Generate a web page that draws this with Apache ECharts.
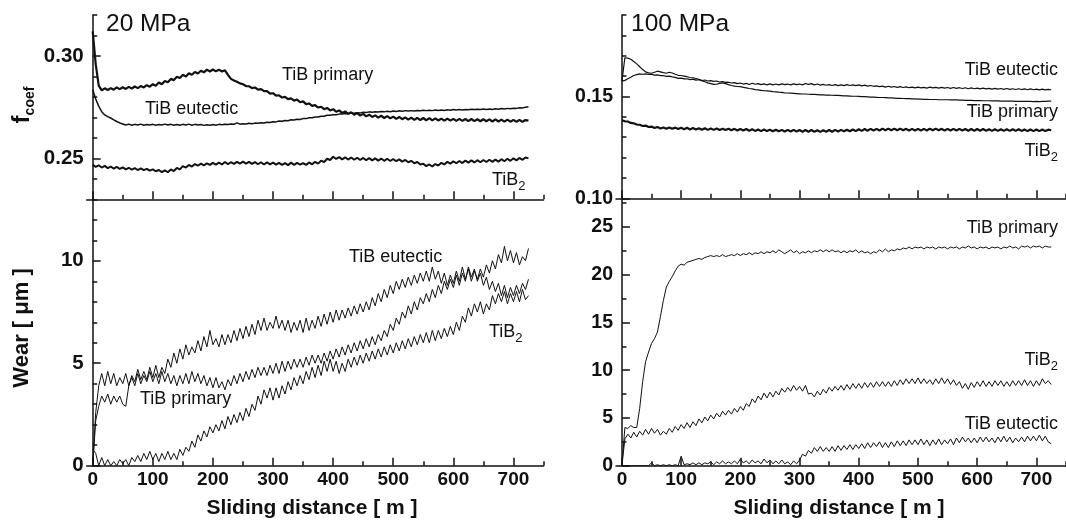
<!DOCTYPE html>
<html><head><meta charset="utf-8">
<script src="https://cdn.jsdelivr.net/npm/echarts@6/dist/echarts.min.js"></script>
<style>html,body{margin:0;padding:0;background:#fff}#c{width:1066px;height:521px}</style>
</head><body><div id="c"></div>
<script>
// Sliding distance [m], sampled every 5 m
const distance = [
0,5,10,15,20,25,30,35,40,45, 50,55,60,65,70,75,80,85,90,95,
100,105,110,115,120,125,130,135,140,145, 150,155,160,165,170,175,180,185,190,195,
200,205,210,215,220,225,230,235,240,245, 250,255,260,265,270,275,280,285,290,295,
300,305,310,315,320,325,330,335,340,345, 350,355,360,365,370,375,380,385,390,395,
400,405,410,415,420,425,430,435,440,445, 450,455,460,465,470,475,480,485,490,495,
500,505,510,515,520,525,530,535,540,545, 550,555,560,565,570,575,580,585,590,595,
600,605,610,615,620,625,630,635,640,645, 650,655,660,665,670,675,680,685,690,695,
700,705,710,715,720,725];

// 20 MPa – friction coefficient
const f20Primary = [
0.312,0.296,0.2855,0.2832,0.2842,0.2834,0.2843,0.2835,0.2846,0.2838,
0.2847,0.2839,0.2849,0.2841,0.2851,0.2843,0.2853,0.2846,0.2857,0.2850,
0.2862,0.2855,0.2870,0.2862,0.2878,0.2872,0.2888,0.2882,0.2898,0.2892,
0.2908,0.2900,0.2915,0.2908,0.2922,0.2914,0.2928,0.2920,0.2933,0.2924,
0.2934,0.2925,0.2933,0.2924,0.2930,0.2908,0.2888,0.2880,0.2874,0.2866,
0.2862,0.2853,0.2852,0.2843,0.2846,0.2836,0.2838,0.2828,0.2828,0.2816,
0.2818,0.2806,0.2808,0.2797,0.2800,0.2789,0.2793,0.2782,0.2787,0.2774,
0.2778,0.2765,0.2768,0.2756,0.2760,0.2748,0.2752,0.2740,0.2746,0.2734,
0.2740,0.2728,0.2734,0.2722,0.2729,0.2717,0.2725,0.2713,0.2721,0.2709,
0.2717,0.2705,0.2713,0.2702,0.2710,0.2699,0.2708,0.2697,0.2706,0.2695,
0.2704,0.2693,0.2702,0.2691,0.2700,0.2689,0.2699,0.2688,0.2698,0.2687,
0.2697,0.2686,0.2696,0.2685,0.2695,0.2685,0.2694,0.2684,0.2694,0.2684,
0.2693,0.2683,0.2693,0.2683,0.2692,0.2682,0.2692,0.2682,0.2691,0.2681,
0.2691,0.2681,0.2690,0.2680,0.2690,0.2680,0.2689,0.2679,0.2689,0.2679,
0.2688,0.2678,0.2688,0.2678,0.2687,0.2684];
const f20Eutectic = [
0.2835,0.2790,0.2755,0.2728,0.2712,0.2704,0.2697,0.2688,0.2680,0.2673,
0.2668,0.2663,0.2667,0.2662,0.2666,0.2663,0.2667,0.2662,0.2665,0.2663,
0.2666,0.2662,0.2665,0.2663,0.2667,0.2663,0.2666,0.2662,0.2665,0.2662,
0.2666,0.2663,0.2667,0.2662,0.2666,0.2663,0.2665,0.2661,0.2664,0.2662,
0.2665,0.2662,0.2666,0.2664,0.2667,0.2665,0.2668,0.2666,0.2673,0.2667,
0.2669,0.2668,0.2671,0.2669,0.2672,0.2671,0.2674,0.2673,0.2676,0.2675,
0.2679,0.2678,0.2682,0.2681,0.2685,0.2684,0.2688,0.2687,0.2691,0.2690,
0.2694,0.2694,0.2698,0.2698,0.2702,0.2702,0.2706,0.2706,0.2710,0.2710,
0.2713,0.2713,0.2716,0.2716,0.2719,0.2718,0.2721,0.2720,0.2723,0.2722,
0.2725,0.2724,0.2727,0.2725,0.2728,0.2726,0.2729,0.2727,0.2730,0.2728,
0.2731,0.2729,0.2732,0.2730,0.2733,0.2731,0.2733,0.2731,0.2734,0.2732,
0.2735,0.2733,0.2735,0.2733,0.2736,0.2734,0.2736,0.2734,0.2737,0.2735,
0.2738,0.2736,0.2738,0.2736,0.2739,0.2737,0.2740,0.2738,0.2740,0.2738,
0.2741,0.2739,0.2741,0.2739,0.2742,0.2740,0.2743,0.2741,0.2744,0.2742,
0.2745,0.2744,0.2747,0.2746,0.2750,0.2752];
const f20TiB2 = [
0.2468,0.2458,0.2466,0.2455,0.2463,0.2452,0.2460,0.2450,0.2458,0.2448,
0.2456,0.2446,0.2454,0.2445,0.2452,0.2443,0.2451,0.2442,0.2449,0.2440,
0.2446,0.2437,0.2443,0.2433,0.2441,0.2432,0.2446,0.2438,0.2453,0.2446,
0.2462,0.2455,0.2468,0.2460,0.2472,0.2464,0.2474,0.2466,0.2476,0.2468,
0.2478,0.2469,0.2479,0.2470,0.2482,0.2472,0.2481,0.2473,0.2483,0.2474,
0.2484,0.2474,0.2483,0.2473,0.2482,0.2471,0.2481,0.2470,0.2480,0.2471,
0.2479,0.2469,0.2478,0.2468,0.2477,0.2467,0.2479,0.2468,0.2478,0.2469,
0.2477,0.2468,0.2480,0.2471,0.2483,0.2474,0.2489,0.2482,0.2498,0.2492,
0.2508,0.2497,0.2506,0.2495,0.2505,0.2494,0.2504,0.2493,0.2503,0.2492,
0.2502,0.2491,0.2501,0.2490,0.2500,0.2489,0.2499,0.2488,0.2498,0.2487,
0.2497,0.2486,0.2495,0.2484,0.2492,0.2481,0.2488,0.2476,0.2482,0.2470,
0.2474,0.2462,0.2470,0.2460,0.2472,0.2465,0.2478,0.2470,0.2483,0.2474,
0.2485,0.2476,0.2487,0.2477,0.2489,0.2479,0.2490,0.2480,0.2491,0.2481,
0.2492,0.2482,0.2493,0.2483,0.2494,0.2484,0.2496,0.2486,0.2498,0.2488,
0.2500,0.2490,0.2502,0.2493,0.2504,0.2500];

// 20 MPa – wear [µm]
const w20Eutectic = [
0.0,2.6,3.9,4.5,3.9,4.6,4.0,4.5,3.9,4.3,
4.0,4.5,3.9,4.4,4.1,4.7,4.2,4.6,4.2,4.8,
4.3,4.9,4.3,4.8,4.5,5.2,4.8,5.5,5.0,5.7,
5.2,5.9,5.4,5.8,5.5,6.1,5.6,6.3,5.8,6.6,
5.9,6.2,5.8,6.4,5.9,6.4,6.0,6.6,6.1,6.7,
6.2,6.8,6.3,6.9,6.4,7.1,6.6,7.2,6.6,7.0,
6.7,7.3,6.7,7.1,6.6,7.1,6.5,7.0,6.6,7.1,
6.5,7.2,6.6,7.1,6.7,7.3,6.8,7.4,6.9,7.5,
7.0,7.6,7.1,7.6,7.2,7.7,7.3,7.8,7.4,7.9,
7.5,8.0,7.6,8.2,7.8,8.4,8.0,8.6,8.2,8.8,
8.4,9.0,8.6,9.1,8.7,9.2,8.8,9.3,8.9,9.4,
9.0,9.5,9.0,9.7,9.1,9.5,8.9,9.4,8.8,9.3,
8.9,9.5,9.0,9.7,9.1,9.6,9.0,9.5,9.1,9.6,
9.2,9.8,9.4,10.0,9.6,10.3,9.9,10.7,10.0,10.5,
9.9,10.4,9.8,10.2,10.0,10.6];
const w20Primary = [
0.0,2.2,2.9,3.4,3.1,3.5,3.0,3.4,3.1,3.4,
3.0,2.9,3.9,4.3,3.9,4.5,4.0,4.4,4.1,4.6,
4.1,4.5,4.0,4.6,4.1,4.5,4.0,4.4,3.9,4.4,
4.0,4.5,4.0,4.6,4.1,4.5,4.0,4.4,3.9,4.3,
3.8,4.3,3.8,4.1,3.7,4.2,3.9,4.4,4.0,4.5,
4.1,4.6,4.2,4.7,4.3,4.8,4.4,4.8,4.4,4.9,
4.5,5.0,4.5,5.1,4.6,5.1,4.7,5.2,4.8,5.2,
4.8,5.3,4.9,5.4,5.0,5.4,5.0,5.5,5.1,5.6,
5.2,5.7,5.3,5.8,5.4,5.9,5.5,6.0,5.6,6.1,
5.7,6.2,5.8,6.3,5.9,6.4,6.1,6.6,6.3,6.9,
6.6,7.2,6.9,7.5,7.2,7.8,7.4,8.0,7.6,8.2,
7.9,8.4,8.0,8.6,8.2,8.8,8.4,9.0,8.6,9.1,
8.7,9.3,8.8,9.4,9.0,9.7,9.2,9.6,9.0,9.4,
8.8,9.2,8.6,9.0,8.5,8.9,8.3,8.8,8.2,8.7,
8.3,8.8,8.4,8.9,8.6,9.1];
const w20TiB2 = [
0.8,0.6,0.0,0.4,0.0,0.3,0.0,0.2,0.0,0.3,
0.1,0.3,0.0,0.4,0.2,0.5,0.2,0.6,0.3,0.7,
0.3,0.6,0.2,0.6,0.3,0.7,0.3,0.6,0.3,0.8,
0.5,0.9,0.7,1.2,0.9,1.5,1.2,1.7,1.4,1.9,
1.6,2.0,1.7,2.2,1.8,2.4,2.0,2.5,2.1,2.6,
2.2,2.8,2.4,3.0,2.7,3.4,3.0,3.7,3.3,3.8,
3.2,3.8,3.3,3.9,3.5,4.1,3.7,4.3,3.9,4.4,
4.0,4.6,4.2,4.8,4.3,4.9,4.4,5.1,4.6,5.2,
4.6,5.1,4.5,5.0,4.6,5.2,4.8,5.3,4.9,5.4,
5.0,5.5,5.1,5.6,5.2,5.7,5.3,5.8,5.4,5.9,
5.5,6.0,5.6,6.1,5.7,6.2,5.8,6.3,5.9,6.4,
6.0,6.5,6.0,6.6,6.1,6.6,6.2,6.7,6.3,6.8,
6.4,7.0,6.6,7.3,7.0,7.7,7.3,7.9,7.5,8.0,
7.4,7.9,7.6,8.3,7.9,8.4,8.0,8.5,7.9,8.4,
8.0,8.5,8.0,8.6,8.1,8.3];

// 100 MPa – friction coefficient
const f100Eutectic = [
0.1575,0.1579,0.1587,0.1594,0.1603,0.1607,0.1611,0.1609,0.1611,0.1608,
0.1609,0.1605,0.1606,0.1602,0.1603,0.1599,0.1600,0.1596,0.1594,0.1589,
0.1590,0.1586,0.1587,0.1583,0.1585,0.1580,0.1582,0.1578,0.1581,0.1576,
0.1578,0.1574,0.1576,0.1571,0.1573,0.1569,0.1570,0.1566,0.1568,0.1563,
0.1566,0.1561,0.1564,0.1559,0.1565,0.1560,0.1563,0.1558,0.1562,0.1557,
0.1562,0.1557,0.1561,0.1557,0.1562,0.1558,0.1561,0.1557,0.1562,0.1558,
0.1561,0.1557,0.1564,0.1559,0.1563,0.1557,0.1561,0.1556,0.1559,0.1555,
0.1558,0.1554,0.1558,0.1553,0.1557,0.1553,0.1558,0.1554,0.1557,0.1553,
0.1557,0.1552,0.1556,0.1551,0.1554,0.1550,0.1552,0.1548,0.1551,0.1546,
0.1550,0.1546,0.1549,0.1545,0.1548,0.1544,0.1547,0.1543,0.1546,0.1542,
0.1546,0.1542,0.1545,0.1541,0.1546,0.1542,0.1545,0.1541,0.1545,0.1541,
0.1544,0.1540,0.1544,0.1540,0.1543,0.1539,0.1543,0.1538,0.1542,0.1538,
0.1541,0.1537,0.1541,0.1537,0.1540,0.1536,0.1540,0.1536,0.1539,0.1535,
0.1539,0.1535,0.1538,0.1534,0.1538,0.1534,0.1537,0.1533,0.1537,0.1533,
0.1536,0.1532,0.1536,0.1532,0.1535,0.1533];
const f100Primary = [
0.1575,0.1690,0.1688,0.1683,0.1672,0.1660,0.1646,0.1632,0.1621,0.1616,
0.1614,0.1619,0.1624,0.1621,0.1617,0.1614,0.1619,0.1615,0.1609,0.1604,
0.1603,0.1600,0.1597,0.1593,0.1592,0.1588,0.1584,0.1578,0.1572,0.1567,
0.1563,0.1559,0.1560,0.1564,0.1566,0.1563,0.1558,0.1554,0.1551,0.1549,
0.1548,0.1545,0.1542,0.1539,0.1537,0.1534,0.1532,0.1530,0.1528,0.1527,
0.1526,0.1524,0.1523,0.1521,0.1520,0.1518,0.1517,0.1516,0.1515,0.1514,
0.1513,0.1512,0.1512,0.1511,0.1510,0.1510,0.1509,0.1508,0.1508,0.1507,
0.1507,0.1506,0.1505,0.1505,0.1504,0.1503,0.1503,0.1502,0.1501,0.1501,
0.1500,0.1499,0.1499,0.1498,0.1497,0.1497,0.1496,0.1495,0.1495,0.1494,
0.1493,0.1493,0.1492,0.1491,0.1491,0.1490,0.1489,0.1489,0.1488,0.1488,
0.1487,0.1487,0.1486,0.1486,0.1485,0.1485,0.1485,0.1484,0.1484,0.1484,
0.1484,0.1483,0.1483,0.1483,0.1482,0.1482,0.1481,0.1481,0.1481,0.1480,
0.1480,0.1480,0.1479,0.1479,0.1479,0.1478,0.1478,0.1478,0.1477,0.1477,
0.1477,0.1477,0.1477,0.1476,0.1476,0.1476,0.1476,0.1476,0.1476,0.1475,
0.1476,0.1475,0.1476,0.1476,0.1477,0.1477];
const f100TiB2 = [
0.1383,0.1378,0.1377,0.1370,0.1368,0.1362,0.1361,0.1355,0.1357,0.1350,
0.1352,0.1345,0.1350,0.1343,0.1348,0.1342,0.1348,0.1341,0.1347,0.1340,
0.1346,0.1339,0.1346,0.1338,0.1345,0.1338,0.1344,0.1337,0.1344,0.1336,
0.1343,0.1336,0.1343,0.1335,0.1342,0.1335,0.1341,0.1334,0.1341,0.1333,
0.1340,0.1333,0.1340,0.1332,0.1339,0.1331,0.1338,0.1330,0.1338,0.1330,
0.1337,0.1329,0.1337,0.1329,0.1336,0.1328,0.1336,0.1328,0.1336,0.1328,
0.1335,0.1327,0.1335,0.1327,0.1335,0.1327,0.1334,0.1326,0.1334,0.1327,
0.1335,0.1327,0.1336,0.1328,0.1336,0.1329,0.1337,0.1329,0.1338,0.1330,
0.1339,0.1331,0.1340,0.1332,0.1341,0.1333,0.1341,0.1333,0.1342,0.1334,
0.1342,0.1334,0.1342,0.1334,0.1342,0.1334,0.1341,0.1333,0.1341,0.1333,
0.1341,0.1333,0.1341,0.1333,0.1342,0.1334,0.1342,0.1334,0.1341,0.1333,
0.1341,0.1333,0.1341,0.1333,0.1341,0.1333,0.1340,0.1332,0.1340,0.1332,
0.1340,0.1332,0.1340,0.1332,0.1339,0.1331,0.1339,0.1331,0.1339,0.1331,
0.1339,0.1331,0.1339,0.1331,0.1339,0.1331,0.1338,0.1330,0.1338,0.1330,
0.1338,0.1330,0.1338,0.1330,0.1337,0.1334];

// 100 MPa – wear [µm]
const w100Primary = [
0.0,4.0,3.9,4.2,4.0,4.0,6.0,8.8,10.9,11.9,
12.8,13.3,14.0,15.6,17.3,18.7,19.3,19.8,20.4,20.9,
21.1,21.0,21.3,21.4,21.5,21.6,21.7,21.6,21.8,21.9,
22.0,21.9,22.0,21.9,22.1,21.9,22.0,22.1,22.0,22.2,
22.0,22.2,22.1,22.3,22.1,22.3,22.2,22.4,22.2,22.4,
22.3,22.5,22.3,22.6,22.4,22.2,22.4,22.6,22.3,22.5,
22.2,22.4,22.3,22.5,22.3,22.5,22.4,22.6,22.4,22.6,
22.4,22.6,22.4,22.5,22.3,22.5,22.3,22.5,22.4,22.6,
22.3,22.5,22.3,22.4,22.2,22.4,22.3,22.6,22.4,22.7,
22.4,22.6,22.5,22.7,22.6,22.8,22.7,22.9,22.7,22.9,
22.8,22.9,22.7,22.9,22.8,22.9,22.7,22.9,22.8,22.9,
22.7,22.9,22.8,22.9,22.7,22.9,22.8,23.0,22.8,22.9,
22.7,22.9,22.8,22.9,22.7,22.9,22.8,22.9,22.7,22.9,
22.8,23.0,22.8,22.9,22.7,23.0,22.9,23.0,22.8,23.0,
22.9,23.0,22.8,23.0,22.9,22.9];
const w100TiB2 = [
0.0,2.8,3.3,2.9,3.5,3.0,3.6,3.2,3.8,3.3,
3.9,3.4,3.8,3.2,3.6,3.3,3.9,3.5,4.1,3.7,
4.3,3.9,4.5,4.0,4.6,4.2,4.9,4.5,5.1,4.7,
5.3,4.9,5.5,5.1,5.7,5.3,5.8,5.4,6.0,5.6,
6.2,5.8,6.5,6.2,7.0,6.6,7.3,6.9,7.6,7.1,
7.7,7.2,7.8,7.4,8.1,7.7,8.2,7.8,8.4,7.9,
8.3,7.8,8.4,7.5,7.6,7.2,7.8,7.4,8.0,7.6,
8.2,7.8,8.3,7.9,8.4,7.9,8.5,8.0,8.6,8.1,
8.6,8.1,8.7,8.2,8.7,8.2,8.8,8.3,8.8,8.3,
8.8,8.3,8.9,8.4,9.0,8.5,9.1,8.6,9.1,8.6,
9.2,8.6,9.1,8.6,9.0,8.5,9.1,8.6,9.2,8.6,
9.1,8.5,9.0,8.4,8.8,8.1,8.6,8.0,8.7,8.2,
8.8,8.3,8.9,8.3,8.8,8.3,8.9,8.4,8.9,8.3,
8.8,8.3,8.9,8.4,8.9,8.4,9.0,8.4,8.9,8.3,
8.9,8.4,9.1,8.6,8.9,8.5];
const w100Eutectic = [
0,0,0,0,0,0,0,0,0,0,
0.3,0.0,0.1,0.0,0.1,0.0,0.1,0.0,0.1,0.0,
1.0,0.1,0.2,0.1,0.3,0.1,0.3,0.1,0.3,0.2,
0.4,0.1,0.4,0.2,0.5,0.2,0.4,0.2,0.5,0.2,
0.7,0.3,0.5,0.2,0.6,0.3,0.5,0.2,0.7,0.3,
0.6,0.2,0.5,0.2,0.6,0.2,0.4,0.1,0.5,0.2,
0.6,1.2,1.0,1.6,1.3,1.9,1.5,2.0,1.5,1.9,
1.5,2.0,1.5,2.1,1.6,2.1,1.7,2.2,1.7,2.2,
1.8,2.3,1.8,2.4,1.9,2.4,2.0,2.5,1.9,2.4,
1.9,2.5,2.0,2.6,2.1,2.6,2.1,2.7,2.2,2.7,
2.2,2.8,2.2,2.7,2.1,2.7,2.2,2.8,2.2,2.7,
2.3,2.8,2.2,2.9,2.4,3.0,2.5,2.9,2.4,2.9,
2.4,3.0,2.5,3.0,2.5,2.9,2.4,3.0,2.5,3.1,
2.5,3.0,2.4,2.9,2.5,3.0,2.5,3.1,2.6,3.1,
2.6,3.2,2.6,3.1,2.5,2.3];

// Tick values
const xMajorTicks = [0,100,200,300,400,500,600,700];
const xMinorTicks = [50,150,250,350,450,550,650,750];
const fLeftMajor = [0.25,0.30];
const fLeftMinor = [0.23,0.24,0.26,0.27,0.28,0.29,0.31,0.32];
const wLeftMajor = [0,5,10];
const wLeftMinor = [1,2,3,4,6,7,8,9,11,12,13];
const fRightMajor = [0.10,0.15];
const fRightMinor = [0.11,0.12,0.13,0.14,0.16,0.17,0.18,0.19];
const wRightMajor = [0,5,10,15,20,25];
const wRightMinor = [2.5,7.5,12.5,17.5,22.5,27.5];

const FONT = "'Liberation Sans', Arial, Helvetica, sans-serif";
const INK = '#111';

const rects = [
  {left:86.7, top:15, width:456.8, height:184.3},   // TL
  {left:86.7, top:199.3, width:456.8, height:266.4}, // BL
  {left:616, top:15, width:457, height:183.3},      // TR
  {left:616, top:198.3, width:457, height:267.4}    // BR
];
const yRanges = [[0.23,0.32],[0,13],[0.10,0.19],[0,28]];
const yMajors = [fLeftMajor, wLeftMajor, fRightMajor, wRightMajor];
const yMinors = [fLeftMinor, wLeftMinor, fRightMinor, wRightMinor];
const showX = [false,true,false,true];
const yLblSize = [20.5, 20.5, 19.5, 19.5];

const grids = [], xAxes = [], yAxes = [];
const lblStyle = {fontFamily:FONT, fontWeight:'bold', color:INK};
for (let k = 0; k < 2; k++) {
  for (let g = 0; g < 4; g++) {
    const minor = k === 1;
    const gi = grids.length;
    grids.push(Object.assign({containLabel:false}, rects[g]));
    xAxes.push({
      type:'value', gridIndex:gi, min:-10, max:750, position:'bottom',
      axisLine:{show:!minor, lineStyle:{color:INK, width:1.5}},
      axisTick:{show:true, inside:true, length:minor?4.5:8, customValues: minor?xMinorTicks:xMajorTicks,
                lineStyle:{color:INK, width:1.5}},
      axisLabel:Object.assign({show:!minor && showX[g], margin:5, fontSize:19, customValues:xMajorTicks}, lblStyle),
      splitLine:{show:false}
    });
    const isF = (g === 0 || g === 2);
    yAxes.push({
      type:'value', gridIndex:gi, min:yRanges[g][0], max:yRanges[g][1], position:'left',
      axisLine:{show:!minor, lineStyle:{color:INK, width:1.5}},
      axisTick:{show:true, inside:true, length:minor?4.5:8, customValues: minor?yMinors[g]:yMajors[g],
                lineStyle:{color:INK, width:1.5}},
      axisLabel:Object.assign({show:!minor, margin:3, fontSize:yLblSize[g], customValues:yMajors[g],
                formatter: v => isF ? Number(v).toFixed(2) : String(v)}, lblStyle),
      splitLine:{show:false}
    });
  }
}

function mk(vals, gi, w) {
  return {type:'line', xAxisIndex:gi, yAxisIndex:gi, symbol:'none', showSymbol:false,
    data: distance.map((d,i)=>[d, vals[i]]), lineStyle:{width:w, color:INK},
    silent:true, animation:false, clip:true};
}
const series = [
  mk(f20Primary,0,2.2), mk(f20Eutectic,0,1.5), mk(f20TiB2,0,2),
  mk(w20Eutectic,1,1), mk(w20Primary,1,1), mk(w20TiB2,1,1),
  mk(f100Eutectic,2,1.2), mk(f100Primary,2,1.2), mk(f100TiB2,2,2.2),
  mk(w100Primary,3,1), mk(w100TiB2,3,1), mk(w100Eutectic,3,1)
];

const LBL = 18;
const rich = {
  a:{fontFamily:FONT, fontSize:LBL, lineHeight:26, fill:INK, color:INK, verticalAlign:'middle'},
  s:{fontFamily:FONT, fontSize:13, lineHeight:13, fill:INK, color:INK, verticalAlign:'bottom'}
};
function lab(text, x, y, align) {
  return {type:'text', x:x, y:y, silent:true, style:{text:text, fontFamily:FONT, fontSize:LBL, fill:INK,
    align:align||'left', verticalAlign:'middle'}};
}
function labSub(x, y, align) {
  return {type:'text', x:x, y:y, silent:true, style:{text:'{a|TiB}{s|2}', rich:rich, fill:INK,
    align:align||'left', verticalAlign:'middle'}};
}
const graphic = [
  {type:'text', x:106, y:24, silent:true, style:{text:'20 MPa', fontFamily:FONT, fontSize:24.5, fill:INK, verticalAlign:'middle'}},
  {type:'text', x:631, y:24, silent:true, style:{text:'100 MPa', fontFamily:FONT, fontSize:24.5, fill:INK, verticalAlign:'middle'}},
  lab('TiB primary', 282, 75), lab('TiB eutectic', 145, 109), labSub(492, 180),
  lab('TiB eutectic', 349, 257), lab('TiB primary', 140, 399), labSub(489, 332),
  lab('TiB eutectic', 1058, 70, 'right'), lab('TiB primary', 1058, 112, 'right'), labSub(1058, 151, 'right'),
  lab('TiB primary', 1058, 228, 'right'), labSub(1058, 360, 'right'), lab('TiB eutectic', 1058, 424, 'right'),
  {type:'text', x:312, y:508, silent:true, style:{text:'Sliding distance [ m ]', fontFamily:FONT, fontSize:21, fontWeight:'bold', fill:INK, align:'center', verticalAlign:'middle'}},
  {type:'text', x:839, y:508, silent:true, style:{text:'Sliding distance [ m ]', fontFamily:FONT, fontSize:21, fontWeight:'bold', fill:INK, align:'center', verticalAlign:'middle'}},
  {type:'text', x:22, y:328, rotation:Math.PI/2, silent:true, style:{text:'Wear [ μm ]', fontFamily:FONT, fontSize:22, fontWeight:'bold', fill:INK, align:'center', verticalAlign:'middle'}},
  {type:'text', x:22, y:105, rotation:Math.PI/2, silent:true, style:{text:'{f|f}{c|coef}', fill:INK, align:'center', verticalAlign:'middle',
    rich:{f:{fontFamily:FONT, fontSize:24, fontWeight:'bold', lineHeight:30, fill:INK, verticalAlign:'middle'},
          c:{fontFamily:FONT, fontSize:14, fontWeight:'bold', lineHeight:14, fill:INK, verticalAlign:'bottom'}}}}
];

const chart = echarts.init(document.getElementById('c'), null, {renderer:'canvas'});
chart.setOption({
  backgroundColor:'#fff', animation:false,
  grid:grids, xAxis:xAxes, yAxis:yAxes, series:series, graphic:graphic
});
</script>
</body></html>
